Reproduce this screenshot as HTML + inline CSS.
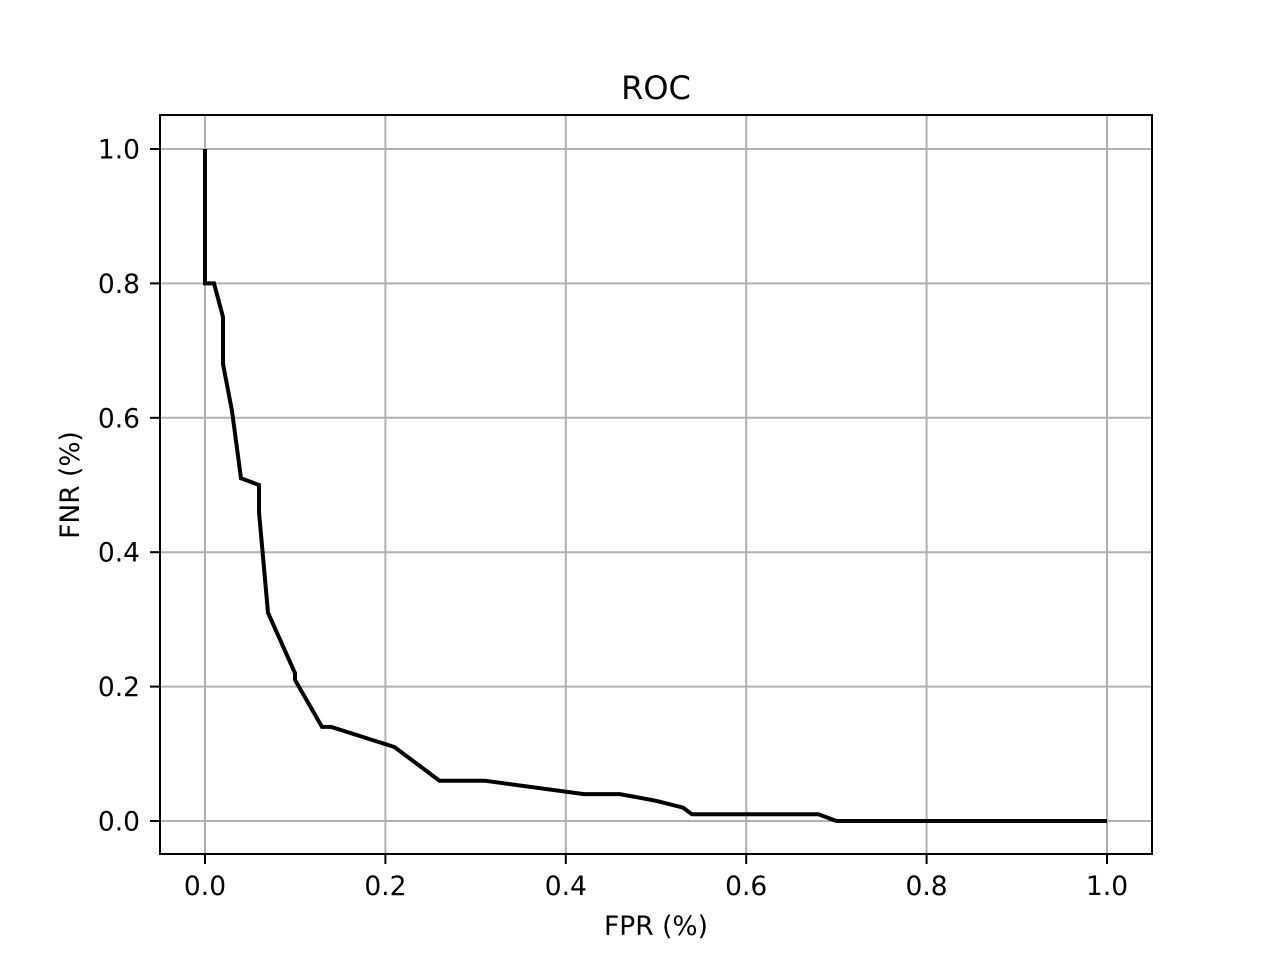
<!DOCTYPE html>
<html><head><meta charset="utf-8"><style>body{margin:0;background:#fff}svg{display:block}</style></head>
<body>
<svg width="1280" height="960" xmlns="http://www.w3.org/2000/svg" font-family="DejaVu Sans, sans-serif">
<rect width="1280" height="960" fill="#fff"/>
<g stroke="#b0b0b0" stroke-width="2">
<line x1="205" y1="115" x2="205" y2="854"/>
<line x1="385.4" y1="115" x2="385.4" y2="854"/>
<line x1="565.8" y1="115" x2="565.8" y2="854"/>
<line x1="746.2" y1="115" x2="746.2" y2="854"/>
<line x1="926.6" y1="115" x2="926.6" y2="854"/>
<line x1="1107" y1="115" x2="1107" y2="854"/>
<line x1="160" y1="821" x2="1152" y2="821"/>
<line x1="160" y1="686.6" x2="1152" y2="686.6"/>
<line x1="160" y1="552.2" x2="1152" y2="552.2"/>
<line x1="160" y1="417.8" x2="1152" y2="417.8"/>
<line x1="160" y1="283.4" x2="1152" y2="283.4"/>
<line x1="160" y1="149" x2="1152" y2="149"/>
</g>
<polyline fill="none" stroke="#000" stroke-width="4" stroke-linejoin="miter" points="205,149 205,283.4 214,283.4 223,317 223,364 232,411 241,478.3 259,485 259,512 268,612.7 295,673.2 295,679.9 322,726.9 331,726.9 394.4,747 439.5,780.7 484.6,780.7 583.8,794.1 619.9,794.1 656,800.8 683,807.6 692,814.3 818.4,814.3 836.4,821 1107,821"/>
<rect x="160" y="115" width="992" height="739" fill="none" stroke="#000" stroke-width="2"/>
<g stroke="#000" stroke-width="2">
<line x1="205" y1="854" x2="205" y2="864"/>
<line x1="385.4" y1="854" x2="385.4" y2="864"/>
<line x1="565.8" y1="854" x2="565.8" y2="864"/>
<line x1="746.2" y1="854" x2="746.2" y2="864"/>
<line x1="926.6" y1="854" x2="926.6" y2="864"/>
<line x1="1107" y1="854" x2="1107" y2="864"/>
<line x1="150" y1="821" x2="160" y2="821"/>
<line x1="150" y1="686.6" x2="160" y2="686.6"/>
<line x1="150" y1="552.2" x2="160" y2="552.2"/>
<line x1="150" y1="417.8" x2="160" y2="417.8"/>
<line x1="150" y1="283.4" x2="160" y2="283.4"/>
<line x1="150" y1="149" x2="160" y2="149"/>
</g>
<g font-size="26.5" text-anchor="middle" fill="#000">
<text x="205" y="895">0.0</text>
<text x="385.4" y="895">0.2</text>
<text x="565.8" y="895">0.4</text>
<text x="746.2" y="895">0.6</text>
<text x="926.6" y="895">0.8</text>
<text x="1107" y="895">1.0</text>
</g>
<g font-size="26.5" text-anchor="end" fill="#000">
<text x="140" y="830.5">0.0</text>
<text x="140" y="696">0.2</text>
<text x="140" y="561.7">0.4</text>
<text x="140" y="427.3">0.6</text>
<text x="140" y="293">0.8</text>
<text x="140" y="158.5">1.0</text>
</g>
<text x="656" y="935" font-size="26.5" text-anchor="middle">FPR (%)</text>
<text transform="translate(79,485) rotate(-90)" font-size="26.5" text-anchor="middle">FNR (%)</text>
<text x="656" y="99" font-size="32" text-anchor="middle">ROC</text>
</svg>
</body></html>
